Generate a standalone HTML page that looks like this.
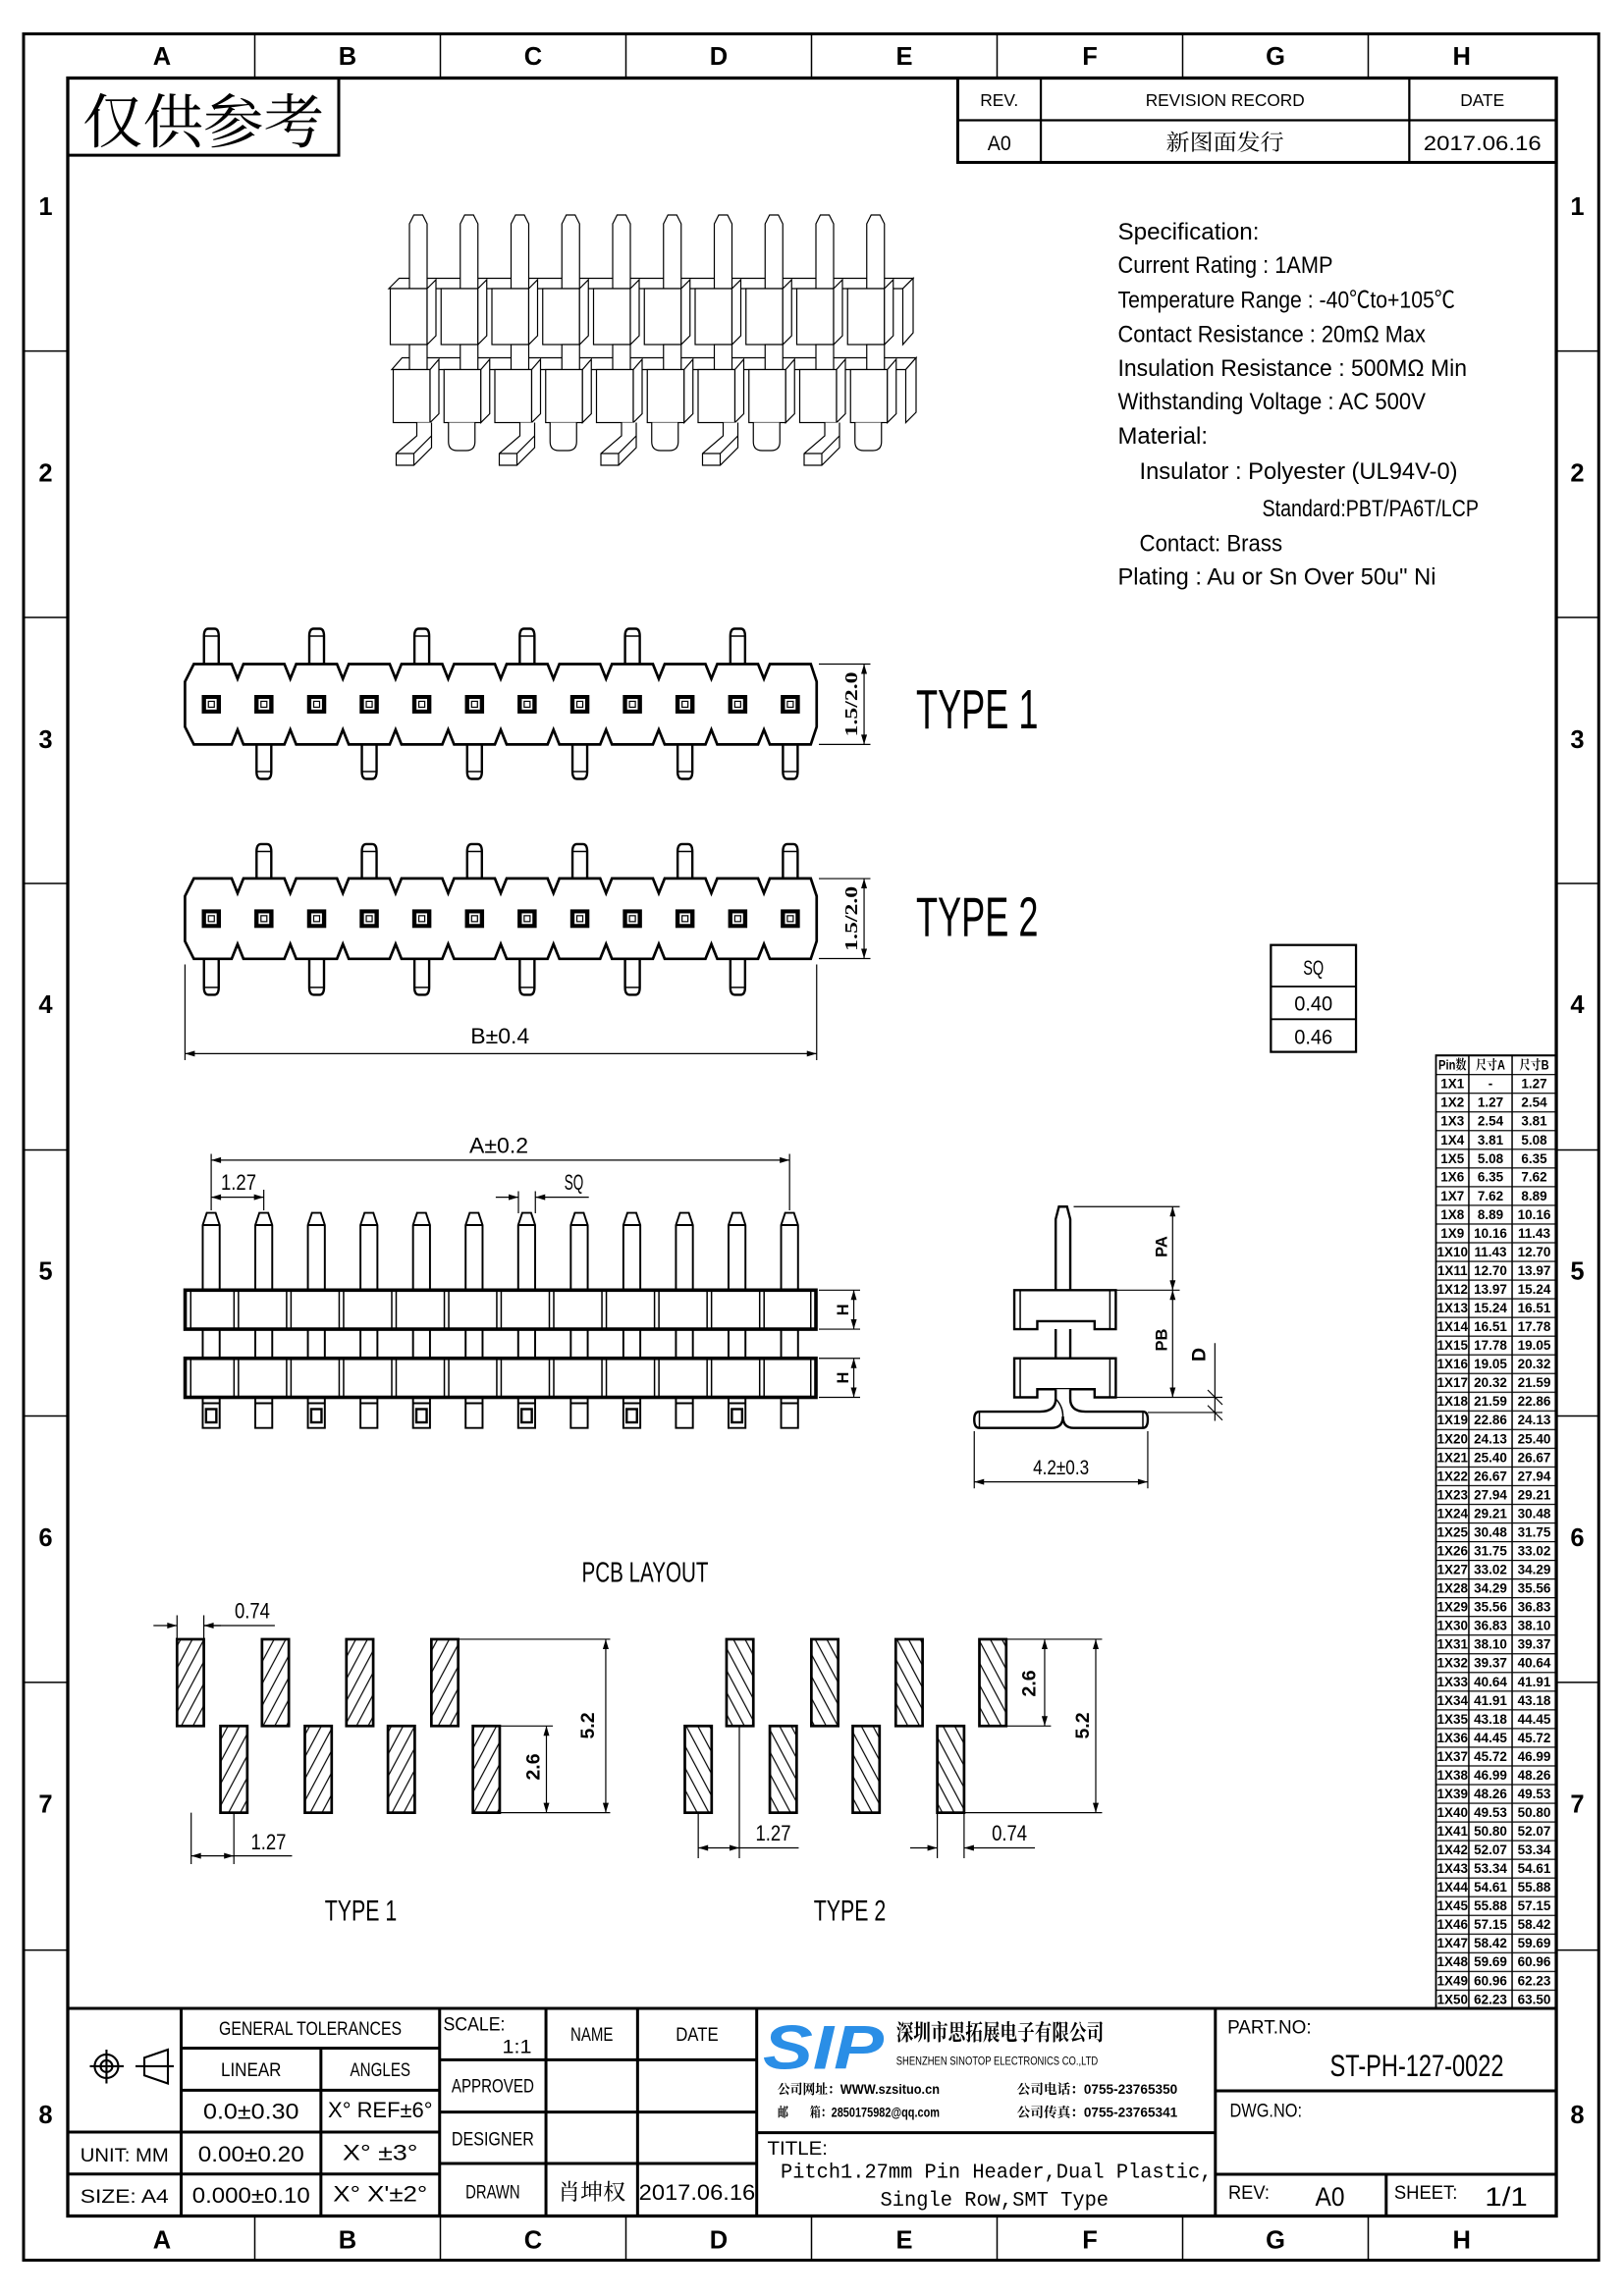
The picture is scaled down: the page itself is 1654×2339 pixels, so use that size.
<!DOCTYPE html>
<html><head><meta charset="utf-8"><style>
html,body{margin:0;padding:0;background:#fff;}
svg{display:block}
text{font-family:"Liberation Sans Narrow","Liberation Sans","Noto Sans CJK SC",sans-serif;fill:#000}
.c{text-anchor:middle}
.cj{font-family:"Liberation Sans","Noto Serif CJK SC",serif}
.b{font-weight:bold}
.mono{font-family:"Liberation Mono","Noto Sans CJK SC",monospace}
</style></head><body>
<svg xmlns="http://www.w3.org/2000/svg" width="1654" height="2339" viewBox="0 0 1102.667 1559.333">
<defs>
<marker id="ar" viewBox="0 0 10 6" refX="10" refY="3" markerWidth="7" markerHeight="4" markerUnits="userSpaceOnUse" orient="auto-start-reverse"><path d="M0,0L10,3L0,6z" fill="#000"/></marker>
<pattern id="h1" width="7" height="7" patternUnits="userSpaceOnUse" patternTransform="rotate(28)"><line x1="1" y1="0" x2="1" y2="7" stroke="#000" stroke-width="0.8"/></pattern>
<pattern id="h2" width="7" height="7" patternUnits="userSpaceOnUse" patternTransform="rotate(-28)"><line x1="1" y1="0" x2="1" y2="7" stroke="#000" stroke-width="0.8"/></pattern>
<pattern id="rows" x="0" y="716.7" width="200" height="12.69" patternUnits="userSpaceOnUse"><rect width="200" height="0.8" fill="#000"/></pattern>
<path id="body" d="M131.6,451L157.3,451L161.3,461L165.3,451L193.1,451L197.1,461L201.1,451L228.8,451L232.8,461L236.8,451L264.6,451L268.6,461L272.6,451L300.3,451L304.3,461L308.3,451L336,451L340,461L344,451L371.8,451L375.8,461L379.8,451L407.5,451L411.5,461L415.5,451L443.3,451L447.3,461L451.3,451L479,451L483,461L487,451L514.7,451L518.7,461L522.7,451L550.5,451L554.5,463L554.5,493.6L550.5,505.6L522.7,505.6L518.7,495.6L514.7,505.6L487,505.6L483,495.6L479,505.6L451.3,505.6L447.3,495.6L443.3,505.6L415.5,505.6L411.5,495.6L407.5,505.6L379.8,505.6L375.8,495.6L371.8,505.6L344,505.6L340,495.6L336,505.6L308.3,505.6L304.3,495.6L300.3,505.6L272.6,505.6L268.6,495.6L264.6,505.6L236.8,505.6L232.8,495.6L228.8,505.6L201.1,505.6L197.1,495.6L193.1,505.6L165.3,505.6L161.3,495.6L157.3,505.6L131.6,505.6L125.6,493.6L125.6,463Z" fill="#fff" stroke="#000" stroke-width="1.8"/>
<g id="sq"><rect x="-6.5" y="-6.3" width="13" height="12.6" fill="#000"/><rect x="-3.6" y="-3.6" width="7.2" height="7.2" fill="#fff"/><rect x="-2" y="-2" width="4" height="4" fill="none" stroke="#000" stroke-width="0.8"/></g>
<g id="pu"><path d="M-5,24V5Q-5,0 -2,0H2Q5,0 5,5V24" fill="#fff" stroke="#000" stroke-width="1.6"/><line x1="-5" y1="5" x2="5" y2="5" stroke="#000" stroke-width="1"/></g>
<g id="sp" fill="none" stroke="#000" stroke-width="1.3"><path d="M-5.75,876.2V832L-3,823.7H3L5.75,832V876.2M-5.75,832H5.75M-5.75,902.7V922.5M5.75,902.7V922.5"/><path d="M-5.75,949V969.8H5.75V949M-5.75,953H5.75"/></g>
<rect id="ssq" x="-3.5" y="957" width="7" height="9" fill="none" stroke="#000" stroke-width="1.6"/>
<path id="blines" d="M129.5,876.2v26.5M550.5,876.2v26.5M158.9,876.2v26.5M161.9,876.2v26.5M194.6,876.2v26.5M197.6,876.2v26.5M230.3,876.2v26.5M233.3,876.2v26.5M266,876.2v26.5M269,876.2v26.5M301.7,876.2v26.5M304.7,876.2v26.5M337.3,876.2v26.5M340.3,876.2v26.5M373,876.2v26.5M376,876.2v26.5M408.7,876.2v26.5M411.7,876.2v26.5M444.4,876.2v26.5M447.4,876.2v26.5M480.1,876.2v26.5M483.1,876.2v26.5M515.8,876.2v26.5M518.8,876.2v26.5" stroke="#000" stroke-width="1" fill="none"/>
<g id="u3" fill="#fff" stroke="#000" stroke-width="0.8">
<path d="M14,196V152L17,146H23L26,152V196Z"/>
<rect x="1" y="196" width="25" height="38"/>
<path d="M26,196L32,190V228L26,234Z"/>
<rect x="14" y="234" width="12" height="17"/>
<rect x="3" y="251" width="25" height="36"/>
<path d="M28,251L34,244V281L28,287Z"/>
</g>
<path id="fe" d="M8,287V296L-6,308V316H6L18,304V287M-6,308H6L18,296M6,308V316" fill="#fff" stroke="#000" stroke-width="0.8"/>
<path id="fo" d="M6,287V300Q6,306 12,306H18Q24,306 24,300V287" fill="#fff" stroke="#000" stroke-width="0.8"/>
</defs>

<!-- frame -->
<rect x="16" y="23" width="1069.5" height="1512" fill="none" stroke="#000" stroke-width="2"/>
<rect x="46" y="53" width="1010.7" height="1452" fill="none" stroke="#000" stroke-width="2.2"/>
<path d="M173,23V53M299,23V53M425,23V53M551,23V53M677,23V53M803,23V53M929,23V53M173,1505V1535M299,1505V1535M425,1505V1535M551,1505V1535M677,1505V1535M803,1505V1535M929,1505V1535M16,238.4H46M16,419.3H46M16,600H46M16,781H46M16,961.7H46M16,1142.6H46M16,1324.4H46M1056.7,238.4H1085.5M1056.7,419.3H1085.5M1056.7,600H1085.5M1056.7,781H1085.5M1056.7,961.7H1085.5M1056.7,1142.6H1085.5M1056.7,1324.4H1085.5" stroke="#000" stroke-width="1"/>
<g class="c" style="font-family:'Liberation Sans',sans-serif;font-weight:bold;font-size:17px">
<text x="110" y="44" class="c">A</text><text x="236" y="44">B</text><text x="362" y="44">C</text><text x="488" y="44">D</text><text x="614" y="44">E</text><text x="740" y="44">F</text><text x="866" y="44">G</text><text x="992.5" y="44">H</text>
<text x="110" y="1527">A</text><text x="236" y="1527">B</text><text x="362" y="1527">C</text><text x="488" y="1527">D</text><text x="614" y="1527">E</text><text x="740" y="1527">F</text><text x="866" y="1527">G</text><text x="992.5" y="1527">H</text>
<text x="31" y="146">1</text><text x="31" y="327">2</text><text x="31" y="508">3</text><text x="31" y="688">4</text><text x="31" y="869">5</text><text x="31" y="1050">6</text><text x="31" y="1231">7</text><text x="31" y="1442">8</text>
<text x="1071" y="146">1</text><text x="1071" y="327">2</text><text x="1071" y="508">3</text><text x="1071" y="688">4</text><text x="1071" y="869">5</text><text x="1071" y="1050">6</text><text x="1071" y="1231">7</text><text x="1071" y="1442">8</text>
</g>

<!-- 仅供参考 -->
<path d="M46,105.4H230V53" fill="none" stroke="#000" stroke-width="2"/>
<text x="56" y="97" class="cj" style="font-size:40px" textLength="164" lengthAdjust="spacingAndGlyphs">仅供参考</text>

<!-- revision table -->
<rect x="650.3" y="53" width="406.4" height="57.3" fill="none" stroke="#000" stroke-width="2"/>
<path d="M650.3,81.7H1056.7M706.7,53V110.3M956.9,53V110.3" stroke="#000" stroke-width="1.5"/>
<g style="font-size:12px" class="c">
<text x="678.5" y="72" textLength="26" lengthAdjust="spacingAndGlyphs">REV.</text>
<text x="831.8" y="72" textLength="108" lengthAdjust="spacingAndGlyphs">REVISION RECORD</text>
<text x="1006.5" y="72" textLength="30" lengthAdjust="spacingAndGlyphs">DATE</text>
<text x="678.5" y="102" style="font-size:14px" textLength="16" lengthAdjust="spacingAndGlyphs">A0</text>
<text x="831.8" y="102" class="cj" style="font-size:15px" textLength="80" lengthAdjust="spacingAndGlyphs">新图面发行</text>
<text x="1006.5" y="102" style="font-size:14px" textLength="80" lengthAdjust="spacingAndGlyphs">2017.06.16</text>
</g>

<!-- 3D view -->
<path d="M264,196L271,189H620L613,196Z" fill="#fff" stroke="#000" stroke-width="0.8"/>
<path d="M266,251L273,243H622L615,251Z" fill="#fff" stroke="#000" stroke-width="0.8"/>
<use href="#u3" x="264"/><use href="#u3" x="298.5"/><use href="#u3" x="333"/><use href="#u3" x="367.5"/><use href="#u3" x="402"/><use href="#u3" x="436.5"/><use href="#u3" x="471"/><use href="#u3" x="505.5"/><use href="#u3" x="540"/><use href="#u3" x="574.5"/>
<path d="M613,196L620,189V226L613,234ZM615,251L622,243V280L615,287Z" fill="#fff" stroke="#000" stroke-width="0.8"/>
<use href="#fe" x="275"/><use href="#fo" x="298.5"/><use href="#fe" x="345"/><use href="#fo" x="367.5"/><use href="#fe" x="414"/><use href="#fo" x="436.5"/><use href="#fe" x="483"/><use href="#fo" x="505.5"/><use href="#fe" x="552"/><use href="#fo" x="574.5"/>

<!-- spec -->
<g style="font-size:16px">
<text x="759" y="162.7" textLength="96" lengthAdjust="spacingAndGlyphs">Specification:</text>
<text x="759" y="185.3" textLength="146" lengthAdjust="spacingAndGlyphs">Current Rating : 1AMP</text>
<text x="759" y="209" textLength="229" lengthAdjust="spacingAndGlyphs">Temperature Range : -40℃to+105℃</text>
<text x="759" y="232.4" textLength="209" lengthAdjust="spacingAndGlyphs">Contact Resistance : 20mΩ Max</text>
<text x="759" y="255.5" textLength="237" lengthAdjust="spacingAndGlyphs">Insulation Resistance : 500MΩ Min</text>
<text x="759" y="278" textLength="209" lengthAdjust="spacingAndGlyphs">Withstanding Voltage : AC 500V</text>
<text x="759" y="301.3" textLength="61" lengthAdjust="spacingAndGlyphs">Material:</text>
<text x="773.7" y="325.2" textLength="216" lengthAdjust="spacingAndGlyphs">Insulator : Polyester (UL94V-0)</text>
<text x="857" y="350.7" textLength="147" lengthAdjust="spacingAndGlyphs">Standard:PBT/PA6T/LCP</text>
<text x="773.7" y="374.5" textLength="97" lengthAdjust="spacingAndGlyphs">Contact: Brass</text>
<text x="759" y="397.1" textLength="216" lengthAdjust="spacingAndGlyphs">Plating : Au or Sn Over 50u" Ni</text>
</g>

<!-- Type 1 top view -->
<g>
<use href="#pu" x="143.5" y="427"/><use href="#pu" x="215" y="427"/><use href="#pu" x="286.4" y="427"/><use href="#pu" x="357.9" y="427"/><use href="#pu" x="429.4" y="427"/><use href="#pu" x="500.9" y="427"/>
<g transform="translate(0,1034.6) scale(1,-1)"><use href="#pu" x="179.2" y="505.6"/><use href="#pu" x="250.7" y="505.6"/><use href="#pu" x="322.2" y="505.6"/><use href="#pu" x="393.7" y="505.6"/><use href="#pu" x="465.1" y="505.6"/><use href="#pu" x="536.6" y="505.6"/></g>
<use href="#body"/>
<g transform="translate(0,478.3)"><use href="#sq" x="143.5"/><use href="#sq" x="179.2"/><use href="#sq" x="215"/><use href="#sq" x="250.7"/><use href="#sq" x="286.4"/><use href="#sq" x="322.2"/><use href="#sq" x="357.9"/><use href="#sq" x="393.7"/><use href="#sq" x="429.4"/><use href="#sq" x="465.1"/><use href="#sq" x="500.9"/><use href="#sq" x="536.6"/></g>
<path d="M556,451H591M556,505.6H591" stroke="#000" stroke-width="0.8"/>
<line x1="586.7" y1="451" x2="586.7" y2="505.6" stroke="#000" stroke-width="0.8" marker-start="url(#ar)" marker-end="url(#ar)"/>
<text transform="translate(582,478.3) rotate(-90)" class="c" style="font-family:'Liberation Serif',serif;font-weight:bold;font-size:12px" textLength="44" lengthAdjust="spacingAndGlyphs">1.5/2.0</text>
<text x="622" y="494.8" style="font-size:38px" textLength="83" lengthAdjust="spacingAndGlyphs">TYPE 1</text>
</g>

<!-- Type 2 top view -->
<g>
<g transform="translate(0,-146.3)"><use href="#pu" x="179.2" y="719.6"/><use href="#pu" x="250.7" y="719.6"/><use href="#pu" x="322.2" y="719.6"/><use href="#pu" x="393.7" y="719.6"/><use href="#pu" x="465.1" y="719.6"/><use href="#pu" x="536.6" y="719.6"/></g>
<g transform="translate(0,1326.6) scale(1,-1)"><use href="#pu" x="143.5" y="651"/><use href="#pu" x="215" y="651"/><use href="#pu" x="286.4" y="651"/><use href="#pu" x="357.9" y="651"/><use href="#pu" x="429.4" y="651"/><use href="#pu" x="500.9" y="651"/></g>
<use href="#body" y="145.6"/>
<g transform="translate(0,623.9)"><use href="#sq" x="143.5"/><use href="#sq" x="179.2"/><use href="#sq" x="215"/><use href="#sq" x="250.7"/><use href="#sq" x="286.4"/><use href="#sq" x="322.2"/><use href="#sq" x="357.9"/><use href="#sq" x="393.7"/><use href="#sq" x="429.4"/><use href="#sq" x="465.1"/><use href="#sq" x="500.9"/><use href="#sq" x="536.6"/></g>
<path d="M556,596.7H591M556,651H591M125.6,655V720M554.5,655V720" stroke="#000" stroke-width="0.8"/>
<line x1="586.7" y1="596.7" x2="586.7" y2="651" stroke="#000" stroke-width="0.8" marker-start="url(#ar)" marker-end="url(#ar)"/>
<text transform="translate(582,623.9) rotate(-90)" class="c" style="font-family:'Liberation Serif',serif;font-weight:bold;font-size:12px" textLength="44" lengthAdjust="spacingAndGlyphs">1.5/2.0</text>
<line x1="125.6" y1="715.6" x2="554.5" y2="715.6" stroke="#000" stroke-width="0.8" marker-start="url(#ar)" marker-end="url(#ar)"/>
<text x="339.5" y="708.7" class="c" style="font-size:15px" textLength="40" lengthAdjust="spacingAndGlyphs">B±0.4</text>
<text x="622" y="635.8" style="font-size:38px" textLength="83" lengthAdjust="spacingAndGlyphs">TYPE 2</text>
</g>

<!-- SQ table -->
<rect x="862.9" y="641.8" width="57.8" height="72.6" fill="none" stroke="#000" stroke-width="1.5"/>
<path d="M862.9,670H920.7M862.9,692.2H920.7" stroke="#000" stroke-width="1.2"/>
<g class="c" style="font-size:14px"><text x="891.8" y="662" textLength="14" lengthAdjust="spacingAndGlyphs">SQ</text><text x="891.8" y="686.5" textLength="26" lengthAdjust="spacingAndGlyphs">0.40</text><text x="891.8" y="709" textLength="26" lengthAdjust="spacingAndGlyphs">0.46</text></g>

<!-- side view front -->
<use href="#sp" x="143.4"/><use href="#sp" x="179.1"/><use href="#sp" x="214.8"/><use href="#sp" x="250.5"/><use href="#sp" x="286.2"/><use href="#sp" x="321.9"/><use href="#sp" x="357.6"/><use href="#sp" x="393.3"/><use href="#sp" x="429"/><use href="#sp" x="464.7"/><use href="#sp" x="500.4"/><use href="#sp" x="536.1"/>
<use href="#ssq" x="143.4"/><use href="#ssq" x="214.8"/><use href="#ssq" x="286.2"/><use href="#ssq" x="357.6"/><use href="#ssq" x="429"/><use href="#ssq" x="500.4"/>
<rect x="125.7" y="876.2" width="428.3" height="26.5" fill="none" stroke="#000" stroke-width="2.4"/>
<rect x="125.7" y="922.5" width="428.3" height="26.5" fill="none" stroke="#000" stroke-width="2.4"/>
<use href="#blines"/><use href="#blines" y="46.3"/>
<path d="M143.4,783.7V822M536.1,783.7V822M179.1,808V822M352,809V824M363.5,809V824M556,876.2H584M556,902.7H584M556,922.5H584M556,949H584" stroke="#000" stroke-width="0.8"/>
<line x1="143.4" y1="787.9" x2="536.1" y2="787.9" stroke="#000" stroke-width="0.8" marker-start="url(#ar)" marker-end="url(#ar)"/>
<line x1="143.4" y1="813.1" x2="179.1" y2="813.1" stroke="#000" stroke-width="0.8" marker-start="url(#ar)" marker-end="url(#ar)"/>
<line x1="336.6" y1="813.1" x2="352" y2="813.1" stroke="#000" stroke-width="0.8" marker-end="url(#ar)"/>
<line x1="399.8" y1="813.1" x2="363.5" y2="813.1" stroke="#000" stroke-width="0.8" marker-end="url(#ar)"/>
<line x1="579.7" y1="876.2" x2="579.7" y2="902.7" stroke="#000" stroke-width="0.8" marker-start="url(#ar)" marker-end="url(#ar)"/>
<line x1="579.7" y1="922.5" x2="579.7" y2="949" stroke="#000" stroke-width="0.8" marker-start="url(#ar)" marker-end="url(#ar)"/>
<g style="font-size:15px" class="c">
<text x="338.7" y="783" textLength="40" lengthAdjust="spacingAndGlyphs">A±0.2</text>
<text x="162" y="808" textLength="24" lengthAdjust="spacingAndGlyphs">1.27</text>
<text x="389.7" y="808" textLength="13" lengthAdjust="spacingAndGlyphs">SQ</text>
</g>
<g style="font-family:'Liberation Serif',serif;font-weight:bold;font-size:11px" class="c">
<text transform="translate(576,889.5) rotate(-90)">H</text>
<text transform="translate(576,935.7) rotate(-90)">H</text>
</g>

<!-- side view right -->
<g fill="#fff" stroke="#000" stroke-width="1.6">
<path d="M716.8,876.2V828L719,819.5H724.5L726.7,828V876.2"/>
<path d="M716.8,902.7V922.5M726.7,902.7V922.5" fill="none"/>
<path d="M688.7,876.2H757.6V902.7H743.2V897.3H704.3V902.7H688.7Z"/>
<path d="M688.7,922.5H757.6V949H743.2V943.5H704.3V949H688.7Z"/>
<path d="M692.7,876.2V902.7M753.6,876.2V902.7M692.7,922.5V949M753.6,922.5V949" stroke-width="1"/>
<path d="M716.8,943.5V950Q716.8,958.7 706,958.7H665Q661.5,958.7 661.5,964Q661.5,969.8 665,969.8H714Q721.7,969.8 721.7,962Q721.7,969.8 729,969.8H776Q779.3,969.8 779.3,964Q779.3,958.7 776,958.7H737Q726.7,958.7 726.7,950V943.5"/>
<path d="M721.7,962Q721.7,955 716.8,950M665,958.7V969.8M776,958.7V969.8" fill="none" stroke-width="1"/>
</g>
<path d="M729,819.5H801M757.6,876.2H801M757.6,949H830M779.3,959.3H830M824.9,912.2V965M820,944L830,954M820,954.5L830,964.5M661.5,972V1010.8M779.3,972V1010.8" stroke="#000" stroke-width="0.8"/>
<line x1="796.2" y1="819.5" x2="796.2" y2="876.2" stroke="#000" stroke-width="0.8" marker-start="url(#ar)" marker-end="url(#ar)"/>
<line x1="796.2" y1="876.2" x2="796.2" y2="949" stroke="#000" stroke-width="0.8" marker-start="url(#ar)" marker-end="url(#ar)"/>
<line x1="661.5" y1="1006.4" x2="779.3" y2="1006.4" stroke="#000" stroke-width="0.8" marker-start="url(#ar)" marker-end="url(#ar)"/>
<g style="font-family:'Liberation Serif',serif;font-weight:bold;font-size:11px" class="c">
<text transform="translate(792.5,846.7) rotate(-90)">PA</text>
<text transform="translate(792.5,910) rotate(-90)">PB</text>
<text transform="translate(818.5,920) rotate(-90)" style="font-size:13px">D</text>
</g>
<text x="720.4" y="1001.3" class="c" style="font-size:14px" textLength="38" lengthAdjust="spacingAndGlyphs">4.2±0.3</text>

<!-- PCB layout -->
<text x="438" y="1074.4" class="c" style="font-size:19px" textLength="86" lengthAdjust="spacingAndGlyphs">PCB LAYOUT</text>
<g stroke="#000" stroke-width="1.8" fill="url(#h1)">
<rect x="120.2" y="1113.3" width="18.2" height="58.9"/><rect x="177.9" y="1113.3" width="18.2" height="58.9"/><rect x="235.2" y="1113.3" width="18.2" height="58.9"/><rect x="292.9" y="1113.3" width="18.2" height="58.9"/>
<rect x="149.7" y="1172.2" width="18.2" height="58.9"/><rect x="207" y="1172.2" width="18.2" height="58.9"/><rect x="263.4" y="1172.2" width="18.2" height="58.9"/><rect x="321.1" y="1172.2" width="18.2" height="58.9"/>
</g>
<g stroke="#000" stroke-width="1.8" fill="url(#h2)">
<rect x="493.3" y="1113.3" width="18.2" height="58.9"/><rect x="550.9" y="1113.3" width="18.2" height="58.9"/><rect x="608.2" y="1113.3" width="18.2" height="58.9"/><rect x="665" y="1113.3" width="18.2" height="58.9"/>
<rect x="465" y="1172.2" width="18.2" height="58.9"/><rect x="522.7" y="1172.2" width="18.2" height="58.9"/><rect x="579" y="1172.2" width="18.2" height="58.9"/><rect x="636.4" y="1172.2" width="18.2" height="58.9"/>
</g>
<path d="M120.2,1097V1113M138.4,1097V1113M311.1,1113.3H414.3M339.3,1231.1H414.3M339.3,1172.2H375.4M129.8,1231.1V1266M158.8,1231.1V1266M138.4,1104H186.6M157.5,1260.4H198.3M683.2,1113.3H748.3M683.2,1172.2H713.6M654.6,1231.1H748.3M474.1,1231.1V1262M502,1172.2V1262M501,1255H542.3M636.4,1231.1V1262M654.6,1231.1V1262" stroke="#000" stroke-width="0.8"/>
<line x1="104.2" y1="1104" x2="120.2" y2="1104" stroke="#000" stroke-width="0.8" marker-end="url(#ar)"/>
<line x1="150" y1="1104" x2="138.4" y2="1104" stroke="#000" stroke-width="0.8" marker-end="url(#ar)"/>
<line x1="411.3" y1="1113.3" x2="411.3" y2="1231.1" stroke="#000" stroke-width="0.8" marker-start="url(#ar)" marker-end="url(#ar)"/>
<line x1="371" y1="1172.2" x2="371" y2="1231.1" stroke="#000" stroke-width="0.8" marker-start="url(#ar)" marker-end="url(#ar)"/>
<line x1="129.8" y1="1260.4" x2="158.8" y2="1260.4" stroke="#000" stroke-width="0.8" marker-start="url(#ar)" marker-end="url(#ar)"/>
<line x1="474.1" y1="1255" x2="502" y2="1255" stroke="#000" stroke-width="0.8" marker-start="url(#ar)" marker-end="url(#ar)"/>
<line x1="618" y1="1255" x2="636.4" y2="1255" stroke="#000" stroke-width="0.8" marker-end="url(#ar)"/>
<line x1="702.7" y1="1255" x2="654.6" y2="1255" stroke="#000" stroke-width="0.8" marker-end="url(#ar)"/>
<line x1="709.3" y1="1113.3" x2="709.3" y2="1172.2" stroke="#000" stroke-width="0.8" marker-start="url(#ar)" marker-end="url(#ar)"/>
<line x1="744" y1="1113.3" x2="744" y2="1231.1" stroke="#000" stroke-width="0.8" marker-start="url(#ar)" marker-end="url(#ar)"/>
<g style="font-size:15px" class="c">
<text x="171.3" y="1099" textLength="24" lengthAdjust="spacingAndGlyphs">0.74</text>
<text x="182.3" y="1256" textLength="24" lengthAdjust="spacingAndGlyphs">1.27</text>
<text x="525" y="1250" textLength="24" lengthAdjust="spacingAndGlyphs">1.27</text>
<text x="685.4" y="1250" textLength="24" lengthAdjust="spacingAndGlyphs">0.74</text>
</g>
<g style="font-family:'Liberation Sans',sans-serif;font-weight:bold;font-size:13px" class="c">
<text transform="translate(403.5,1172) rotate(-90)">5.2</text>
<text transform="translate(366.5,1200) rotate(-90)">2.6</text>
<text transform="translate(703,1143.3) rotate(-90)">2.6</text>
<text transform="translate(739.5,1172) rotate(-90)">5.2</text>
</g>
<text x="245" y="1304.4" class="c" style="font-size:20px" textLength="49" lengthAdjust="spacingAndGlyphs">TYPE 1</text>
<text x="577" y="1304.4" class="c" style="font-size:20px" textLength="49" lengthAdjust="spacingAndGlyphs">TYPE 2</text>

<!-- pin table -->
<rect x="975" y="716.7" width="81.7" height="647.3" fill="url(#rows)" stroke="#000" stroke-width="1.2"/>
<path d="M997.3,716.7V1364M1026.7,716.7V1364" stroke="#000" stroke-width="1"/>
<g class="c b" style="font-size:9px">
<text x="986.2" y="726.4" class="cj" textLength="19" lengthAdjust="spacingAndGlyphs">Pin数</text>
<text x="1012" y="726.4" class="cj" textLength="20" lengthAdjust="spacingAndGlyphs">尺寸A</text>
<text x="1041.7" y="726.4" class="cj" textLength="20" lengthAdjust="spacingAndGlyphs">尺寸B</text>
<text><tspan x="986.2" y="739.1">1X1</tspan><tspan x="986.2" y="751.8">1X2</tspan><tspan x="986.2" y="764.5">1X3</tspan><tspan x="986.2" y="777.2">1X4</tspan><tspan x="986.2" y="789.9">1X5</tspan><tspan x="986.2" y="802.5">1X6</tspan><tspan x="986.2" y="815.2">1X7</tspan><tspan x="986.2" y="827.9">1X8</tspan><tspan x="986.2" y="840.6">1X9</tspan><tspan x="986.2" y="853.3">1X10</tspan><tspan x="986.2" y="866">1X11</tspan><tspan x="986.2" y="878.7">1X12</tspan><tspan x="986.2" y="891.4">1X13</tspan><tspan x="986.2" y="904.1">1X14</tspan><tspan x="986.2" y="916.8">1X15</tspan><tspan x="986.2" y="929.4">1X16</tspan><tspan x="986.2" y="942.1">1X17</tspan><tspan x="986.2" y="954.8">1X18</tspan><tspan x="986.2" y="967.5">1X19</tspan><tspan x="986.2" y="980.2">1X20</tspan><tspan x="986.2" y="992.9">1X21</tspan><tspan x="986.2" y="1005.6">1X22</tspan><tspan x="986.2" y="1018.3">1X23</tspan><tspan x="986.2" y="1031">1X24</tspan><tspan x="986.2" y="1043.7">1X25</tspan><tspan x="986.2" y="1056.3">1X26</tspan><tspan x="986.2" y="1069">1X27</tspan><tspan x="986.2" y="1081.7">1X28</tspan><tspan x="986.2" y="1094.4">1X29</tspan><tspan x="986.2" y="1107.1">1X30</tspan><tspan x="986.2" y="1119.8">1X31</tspan><tspan x="986.2" y="1132.5">1X32</tspan><tspan x="986.2" y="1145.2">1X33</tspan><tspan x="986.2" y="1157.9">1X34</tspan><tspan x="986.2" y="1170.6">1X35</tspan><tspan x="986.2" y="1183.2">1X36</tspan><tspan x="986.2" y="1195.9">1X37</tspan><tspan x="986.2" y="1208.6">1X38</tspan><tspan x="986.2" y="1221.3">1X39</tspan><tspan x="986.2" y="1234">1X40</tspan><tspan x="986.2" y="1246.7">1X41</tspan><tspan x="986.2" y="1259.4">1X42</tspan><tspan x="986.2" y="1272.1">1X43</tspan><tspan x="986.2" y="1284.8">1X44</tspan><tspan x="986.2" y="1297.5">1X45</tspan><tspan x="986.2" y="1310.1">1X46</tspan><tspan x="986.2" y="1322.8">1X47</tspan><tspan x="986.2" y="1335.5">1X48</tspan><tspan x="986.2" y="1348.2">1X49</tspan><tspan x="986.2" y="1360.9">1X50</tspan></text>
<text><tspan x="1012" y="739.1">-</tspan><tspan x="1012" y="751.8">1.27</tspan><tspan x="1012" y="764.5">2.54</tspan><tspan x="1012" y="777.2">3.81</tspan><tspan x="1012" y="789.9">5.08</tspan><tspan x="1012" y="802.5">6.35</tspan><tspan x="1012" y="815.2">7.62</tspan><tspan x="1012" y="827.9">8.89</tspan><tspan x="1012" y="840.6">10.16</tspan><tspan x="1012" y="853.3">11.43</tspan><tspan x="1012" y="866">12.70</tspan><tspan x="1012" y="878.7">13.97</tspan><tspan x="1012" y="891.4">15.24</tspan><tspan x="1012" y="904.1">16.51</tspan><tspan x="1012" y="916.8">17.78</tspan><tspan x="1012" y="929.4">19.05</tspan><tspan x="1012" y="942.1">20.32</tspan><tspan x="1012" y="954.8">21.59</tspan><tspan x="1012" y="967.5">22.86</tspan><tspan x="1012" y="980.2">24.13</tspan><tspan x="1012" y="992.9">25.40</tspan><tspan x="1012" y="1005.6">26.67</tspan><tspan x="1012" y="1018.3">27.94</tspan><tspan x="1012" y="1031">29.21</tspan><tspan x="1012" y="1043.7">30.48</tspan><tspan x="1012" y="1056.3">31.75</tspan><tspan x="1012" y="1069">33.02</tspan><tspan x="1012" y="1081.7">34.29</tspan><tspan x="1012" y="1094.4">35.56</tspan><tspan x="1012" y="1107.1">36.83</tspan><tspan x="1012" y="1119.8">38.10</tspan><tspan x="1012" y="1132.5">39.37</tspan><tspan x="1012" y="1145.2">40.64</tspan><tspan x="1012" y="1157.9">41.91</tspan><tspan x="1012" y="1170.6">43.18</tspan><tspan x="1012" y="1183.2">44.45</tspan><tspan x="1012" y="1195.9">45.72</tspan><tspan x="1012" y="1208.6">46.99</tspan><tspan x="1012" y="1221.3">48.26</tspan><tspan x="1012" y="1234">49.53</tspan><tspan x="1012" y="1246.7">50.80</tspan><tspan x="1012" y="1259.4">52.07</tspan><tspan x="1012" y="1272.1">53.34</tspan><tspan x="1012" y="1284.8">54.61</tspan><tspan x="1012" y="1297.5">55.88</tspan><tspan x="1012" y="1310.1">57.15</tspan><tspan x="1012" y="1322.8">58.42</tspan><tspan x="1012" y="1335.5">59.69</tspan><tspan x="1012" y="1348.2">60.96</tspan><tspan x="1012" y="1360.9">62.23</tspan></text>
<text><tspan x="1041.7" y="739.1">1.27</tspan><tspan x="1041.7" y="751.8">2.54</tspan><tspan x="1041.7" y="764.5">3.81</tspan><tspan x="1041.7" y="777.2">5.08</tspan><tspan x="1041.7" y="789.9">6.35</tspan><tspan x="1041.7" y="802.5">7.62</tspan><tspan x="1041.7" y="815.2">8.89</tspan><tspan x="1041.7" y="827.9">10.16</tspan><tspan x="1041.7" y="840.6">11.43</tspan><tspan x="1041.7" y="853.3">12.70</tspan><tspan x="1041.7" y="866">13.97</tspan><tspan x="1041.7" y="878.7">15.24</tspan><tspan x="1041.7" y="891.4">16.51</tspan><tspan x="1041.7" y="904.1">17.78</tspan><tspan x="1041.7" y="916.8">19.05</tspan><tspan x="1041.7" y="929.4">20.32</tspan><tspan x="1041.7" y="942.1">21.59</tspan><tspan x="1041.7" y="954.8">22.86</tspan><tspan x="1041.7" y="967.5">24.13</tspan><tspan x="1041.7" y="980.2">25.40</tspan><tspan x="1041.7" y="992.9">26.67</tspan><tspan x="1041.7" y="1005.6">27.94</tspan><tspan x="1041.7" y="1018.3">29.21</tspan><tspan x="1041.7" y="1031">30.48</tspan><tspan x="1041.7" y="1043.7">31.75</tspan><tspan x="1041.7" y="1056.3">33.02</tspan><tspan x="1041.7" y="1069">34.29</tspan><tspan x="1041.7" y="1081.7">35.56</tspan><tspan x="1041.7" y="1094.4">36.83</tspan><tspan x="1041.7" y="1107.1">38.10</tspan><tspan x="1041.7" y="1119.8">39.37</tspan><tspan x="1041.7" y="1132.5">40.64</tspan><tspan x="1041.7" y="1145.2">41.91</tspan><tspan x="1041.7" y="1157.9">43.18</tspan><tspan x="1041.7" y="1170.6">44.45</tspan><tspan x="1041.7" y="1183.2">45.72</tspan><tspan x="1041.7" y="1195.9">46.99</tspan><tspan x="1041.7" y="1208.6">48.26</tspan><tspan x="1041.7" y="1221.3">49.53</tspan><tspan x="1041.7" y="1234">50.80</tspan><tspan x="1041.7" y="1246.7">52.07</tspan><tspan x="1041.7" y="1259.4">53.34</tspan><tspan x="1041.7" y="1272.1">54.61</tspan><tspan x="1041.7" y="1284.8">55.88</tspan><tspan x="1041.7" y="1297.5">57.15</tspan><tspan x="1041.7" y="1310.1">58.42</tspan><tspan x="1041.7" y="1322.8">59.69</tspan><tspan x="1041.7" y="1335.5">60.96</tspan><tspan x="1041.7" y="1348.2">62.23</tspan><tspan x="1041.7" y="1360.9">63.50</tspan></text>
</g>

<!-- title block -->
<g stroke="#000" stroke-width="2" fill="none">
<path d="M46,1364H1056.7"/>
<path d="M123,1364V1505M298.5,1364V1505M513.8,1364V1505M825.2,1364V1505M217.9,1391V1505"/>
<path d="M123,1391H298.5M123,1419.6H298.5M46,1448H298.5M46,1476.5H298.5"/>
<path d="M370.7,1364V1505M432.9,1364V1505M298.5,1398.9H513.8M298.5,1434.4H513.8M298.5,1469.3H513.8"/>
<path d="M513.8,1448.4H825.2M825.2,1420H1056.7M825.2,1476.7H1056.7M941.2,1476.7V1505"/>
</g>
<!-- symbols -->
<g stroke="#000" fill="none" stroke-width="1.4">
<circle cx="72.3" cy="1403.3" r="8"/><circle cx="72.3" cy="1403.3" r="4"/>
<path d="M61,1403.3H84M72.3,1392V1415"/>
<path d="M92,1403.3H118M98,1397.5L114,1392V1415L98,1409.5Z"/>
</g>
<g style="font-size:13px" class="c">
<text x="210.7" y="1382" textLength="124" lengthAdjust="spacingAndGlyphs">GENERAL TOLERANCES</text>
<text x="170.5" y="1410" textLength="41" lengthAdjust="spacingAndGlyphs">LINEAR</text>
<text x="258.2" y="1410" textLength="41" lengthAdjust="spacingAndGlyphs">ANGLES</text>
<text x="170.5" y="1439" style="font-size:15px" textLength="65" lengthAdjust="spacingAndGlyphs">0.0±0.30</text>
<text x="258.2" y="1438" style="font-size:15px" textLength="71" lengthAdjust="spacingAndGlyphs">X° REF±6°</text>
<text x="84.5" y="1468" textLength="60" lengthAdjust="spacingAndGlyphs">UNIT: MM</text>
<text x="170.5" y="1468" style="font-size:15px" textLength="72" lengthAdjust="spacingAndGlyphs">0.00±0.20</text>
<text x="258.2" y="1467" style="font-size:15px" textLength="51" lengthAdjust="spacingAndGlyphs">X° ±3°</text>
<text x="84.5" y="1496" textLength="60" lengthAdjust="spacingAndGlyphs">SIZE: A4</text>
<text x="170.5" y="1496" style="font-size:15px" textLength="80" lengthAdjust="spacingAndGlyphs">0.000±0.10</text>
<text x="258.2" y="1495" style="font-size:15px" textLength="64" lengthAdjust="spacingAndGlyphs">X° X'±2°</text>
<text x="401.8" y="1386" textLength="29" lengthAdjust="spacingAndGlyphs">NAME</text>
<text x="473.3" y="1386" textLength="29" lengthAdjust="spacingAndGlyphs">DATE</text>
<text x="334.6" y="1421" textLength="56" lengthAdjust="spacingAndGlyphs">APPROVED</text>
<text x="334.6" y="1457" textLength="56" lengthAdjust="spacingAndGlyphs">DESIGNER</text>
<text x="334.6" y="1493" textLength="37" lengthAdjust="spacingAndGlyphs">DRAWN</text>
<text x="401.8" y="1494" class="cj" style="font-size:15px" textLength="46" lengthAdjust="spacingAndGlyphs">肖坤权</text>
<text x="473.3" y="1494" style="font-size:15px" textLength="79" lengthAdjust="spacingAndGlyphs">2017.06.16</text>
</g>
<text x="301" y="1379" style="font-size:13px" textLength="42" lengthAdjust="spacingAndGlyphs">SCALE:</text>
<text x="341" y="1394.4" style="font-size:13px" textLength="20" lengthAdjust="spacingAndGlyphs">1:1</text>

<!-- company -->
<text x="518" y="1405" style="font-family:'Liberation Sans',sans-serif;font-weight:bold;font-style:italic;font-size:42px;fill:#2a8ee6" textLength="82" lengthAdjust="spacingAndGlyphs">SIP</text>
<text x="608.5" y="1385.6" class="cj" style="font-size:15px;font-weight:bold" textLength="141" lengthAdjust="spacingAndGlyphs">深圳市思拓展电子有限公司</text>
<text x="608.5" y="1402.2" style="font-size:8px" textLength="137" lengthAdjust="spacingAndGlyphs">SHENZHEN SINOTOP ELECTRONICS CO.,LTD</text>
<g style="font-size:9px;font-weight:bold">
<text x="528" y="1422" class="cj" textLength="110" lengthAdjust="spacingAndGlyphs">公司网址：WWW.szsituo.cn</text>
<text x="690.5" y="1422" class="cj" textLength="109" lengthAdjust="spacingAndGlyphs">公司电话：0755-23765350</text>
<text x="528" y="1437.8" class="cj" textLength="110" lengthAdjust="spacingAndGlyphs">邮　　箱：2850175982@qq.com</text>
<text x="690.5" y="1437.8" class="cj" textLength="109" lengthAdjust="spacingAndGlyphs">公司传真：0755-23765341</text>
</g>
<text x="521" y="1463.3" style="font-size:13px" textLength="41" lengthAdjust="spacingAndGlyphs">TITLE:</text>
<text x="530" y="1479" class="mono" style="font-size:14px" textLength="293" lengthAdjust="spacingAndGlyphs">Pitch1.27mm Pin Header,Dual Plastic,</text>
<text x="597.7" y="1498" class="mono" style="font-size:14px" textLength="155" lengthAdjust="spacingAndGlyphs">Single Row,SMT Type</text>
<text x="833.4" y="1381" style="font-size:13px" textLength="57" lengthAdjust="spacingAndGlyphs">PART.NO:</text>
<text x="962" y="1410" class="c" style="font-size:21px" textLength="118" lengthAdjust="spacingAndGlyphs">ST-PH-127-0022</text>
<text x="835" y="1437.8" style="font-size:13px" textLength="49" lengthAdjust="spacingAndGlyphs">DWG.NO:</text>
<text x="834" y="1493.3" style="font-size:13px" textLength="28" lengthAdjust="spacingAndGlyphs">REV:</text>
<text x="903" y="1498" class="c" style="font-size:18px" textLength="20" lengthAdjust="spacingAndGlyphs">A0</text>
<text x="946.6" y="1493.3" style="font-size:13px" textLength="43" lengthAdjust="spacingAndGlyphs">SHEET:</text>
<text x="1022.7" y="1498" class="c" style="font-size:18px" textLength="29" lengthAdjust="spacingAndGlyphs">1/1</text>
</svg>
</body></html>
